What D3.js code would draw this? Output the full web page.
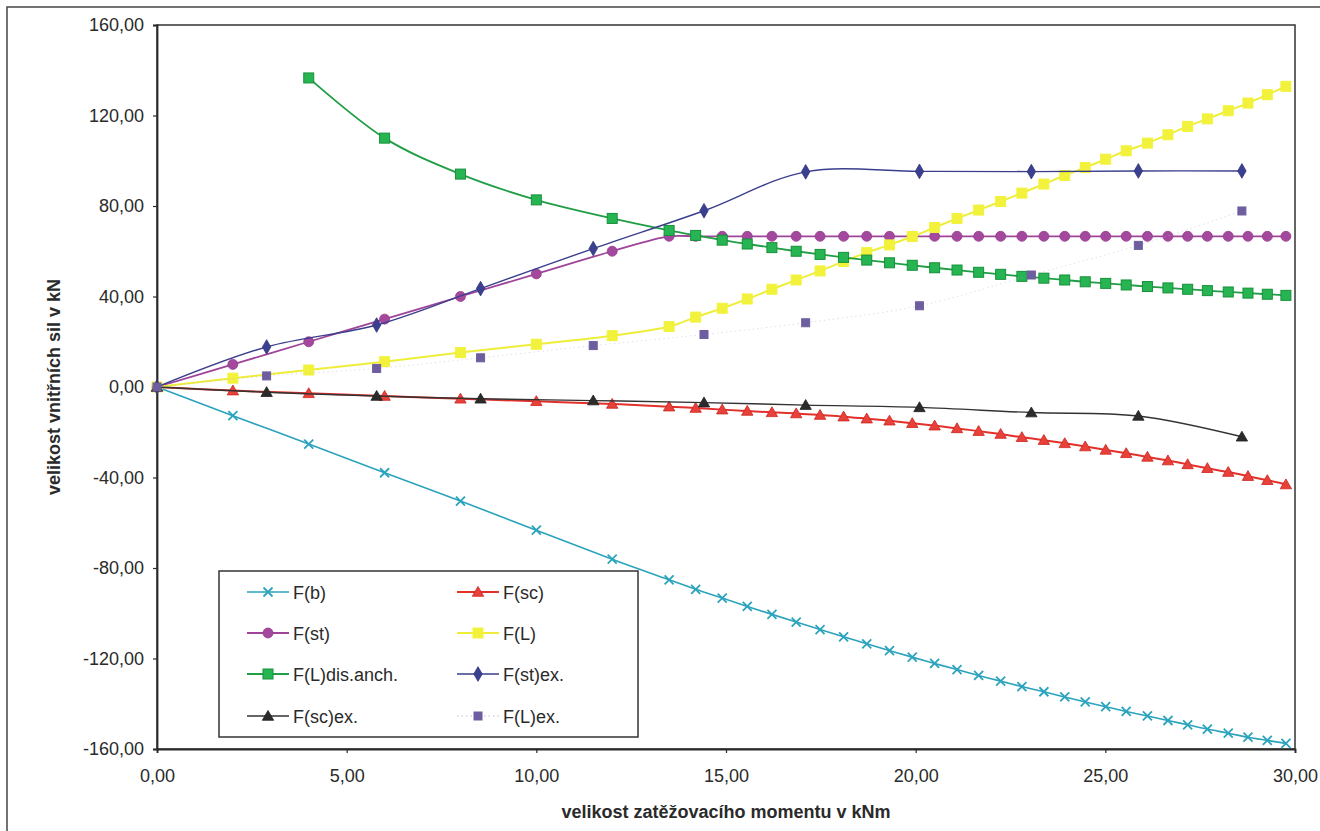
<!DOCTYPE html>
<html>
<head>
<meta charset="utf-8">
<script src="https://cdn.jsdelivr.net/npm/d3@7"></script>
<style>
  html, body { margin: 0; padding: 0; background: #fff; }
  svg { display: block; }
  text { font-family: Arial, "Liberation Sans", sans-serif; fill: #2a2a2a; }
</style>
</head>
<body>
<svg id="chart" width="1320" height="831"></svg>
<script>
// ---- data ----
const xCalc = [0, 2, 4, 6, 8, 10, 12, 13.5, 14.2, 14.9, 15.56, 16.21, 16.85, 17.48, 18.10, 18.71, 19.31, 19.91, 20.50,
  21.09, 21.66, 22.24, 22.80, 23.38, 23.93, 24.47, 25.01, 25.55, 26.11, 26.65, 27.17, 27.69, 28.24, 28.76, 29.27, 29.76];
const fB = [0, -12.7, -25.2, -37.9, -50.4, -63.3, -76.1, -85.2, -89.4,
  -93.3, -97.0, -100.5, -103.9, -107.2, -110.4, -113.5, -116.5, -119.4, -122.2, -124.9, -127.5, -130.0, -132.4,
  -134.7, -137.0, -139.2, -141.3, -143.4, -145.4, -147.4, -149.3, -151.2, -153.0, -154.8, -156.2, -157.5];
const fSc = [0, -1.6, -2.8, -4.0, -5.2, -6.3, -7.5, -8.7, -9.3, -10.0,
  -10.6, -11.2, -11.7, -12.4, -13.1, -14.0, -14.9, -16.0, -17.1, -18.3, -19.5, -20.8, -22.2, -23.5, -24.9,
  -26.3, -27.8, -29.3, -30.9, -32.5, -34.2, -35.9, -37.6, -39.4, -41.2, -43.1];
const fSt = [0, 10, 20, 30, 40, 50, 60, 66.6, 66.6, 66.6, 66.6, 66.6, 66.6, 66.6, 66.6, 66.6, 66.6, 66.6, 66.6,
  66.6, 66.6, 66.6, 66.6, 66.6, 66.6, 66.6, 66.6, 66.6, 66.6, 66.6, 66.6, 66.6, 66.6, 66.6, 66.6, 66.6];
const fL = [0, 3.9, 7.5, 11.2, 15.2, 18.9, 22.7, 26.7, 30.9, 34.8,
  38.9, 43.2, 47.3, 51.3, 55.5, 59.4, 62.8, 66.5, 70.5, 74.5, 78.2, 82.0, 85.7, 89.7, 93.5,
  97.0, 100.7, 104.4, 107.8, 111.5, 115.2, 118.5, 122.1, 125.5, 129.2, 132.9];
const fLdis = [null, null, 136.6, 110.0, 94.1, 82.7, 74.5, 69.2, 67.0, 64.9,
  63.2, 61.6, 60.0, 58.6, 57.3, 56.1, 54.9, 53.8, 52.7, 51.7, 50.7, 49.8, 48.9, 48.1, 47.3,
  46.5, 45.8, 45.1, 44.4, 43.8, 43.2, 42.6, 42.0, 41.5, 41.0, 40.5];

const xEx = [0, 2.89, 5.79, 8.53, 11.5, 14.42, 17.1, 20.1, 23.05, 25.87, 28.6];
const fStEx = [0, 17.7, 27.4, 43.5, 61.2, 77.9, 95.1, 95.3, 95.2, 95.5, 95.5];
const fScEx = [0, -2.3, -4.0, -5.2, -6.0, -6.9, -8.0, -9.0, -11.3, -12.8, -22.0];
const fLEx = [0, 4.9, 8.2, 12.9, 18.3, 23.2, 28.4, 35.9, 49.5, 62.6, 77.8];

const xTicks = [0, 5, 10, 15, 20, 25, 30];
const yTicks = [160, 120, 80, 40, 0, -40, -80, -120, -160];
const xTitle = "velikost zatěžovacího momentu v kNm";
const yTitle = "velikost vnitřních sil v kN";

const seriesNames = ["F(b)", "F(sc)", "F(st)", "F(L)", "F(L)dis.anch.", "F(st)ex.", "F(sc)ex.", "F(L)ex."];

// ---- series definitions (style) ----
const series = [
  { name: seriesNames[0], xs: xCalc, ys: fB, color: "#2ba3bd", marker: "x", mfill: "#2ba3bd", mstroke: "#2ba3bd", width: 1.6 },
  { name: seriesNames[1], xs: xCalc, ys: fSc, color: "#e2302b", marker: "triangle", mfill: "#e8413a", mstroke: "#cc2420", width: 2 },
  { name: seriesNames[2], xs: xCalc, ys: fSt, color: "#a0449a", marker: "circle", mfill: "#a4489e", mstroke: "#963c8f", width: 1.8 },
  { name: seriesNames[3], xs: xCalc, ys: fL, color: "#eeee3a", marker: "square", mfill: "#f2f23c", mstroke: "#f2f23c", width: 2 },
  { name: seriesNames[4], xs: xCalc, ys: fLdis, color: "#1f9e45", marker: "square", mfill: "#27b553", mstroke: "#17903a", width: 1.8 },
  { name: seriesNames[5], xs: xEx, ys: fStEx, color: "#3a3e8c", marker: "diamond", mfill: "#3a3f8f", mstroke: "#333880", width: 1.4 },
  { name: seriesNames[6], xs: xEx, ys: fScEx, color: "#333333", marker: "triangle", mfill: "#2b2b2b", mstroke: "#222", width: 1.4 },
  { name: seriesNames[7], xs: xEx, ys: fLEx, color: "#b4aad8", marker: "square", mfill: "#6e5e9f", mstroke: "#6e5e9f", width: 0.9, dash: "1.5,3", lineOpacity: 0.45, msize: 8 }
];

// ---- layout ----
const svg = d3.select("#chart");
const x = d3.scaleLinear().domain([0, 30]).range([157, 1295]);
const y = d3.scaleLinear().domain([-160, 160]).range([749, 25]);

// outer frame
svg.append("rect").attr("x", 7).attr("y", 7).attr("width", 1330).attr("height", 840)
  .attr("fill", "none").attr("stroke", "#444").attr("stroke-width", 1.5);

// plot border
svg.append("rect").attr("x", x(0)).attr("y", y(160)).attr("width", x(30) - x(0)).attr("height", y(-160) - y(160))
  .attr("fill", "none").attr("stroke", "#333").attr("stroke-width", 1.5);

// axes
const fmt = d => d3.format(".2f")(d).replace(".", ",").replace("\u2212", "-");
const xAxis = d3.axisBottom(x).tickValues(xTicks).tickSize(4).tickPadding(16).tickFormat(fmt);
const yAxis = d3.axisLeft(y).tickValues(yTicks).tickSize(4).tickPadding(9).tickFormat(fmt);

const gx = svg.append("g").attr("transform", `translate(0,${y(-160)})`).call(xAxis);
const gy = svg.append("g").attr("transform", `translate(${x(0)},0)`).call(yAxis);
[gx, gy].forEach(g => {
  g.select(".domain").attr("stroke", "#2a2a2a").attr("stroke-width", 1.8);
  g.selectAll(".tick line").attr("stroke", "#2a2a2a").attr("stroke-width", 1.2);
  g.selectAll(".tick text").attr("font-size", 18).attr("fill", "#262626")
    .attr("font-family", "Arial, 'Liberation Sans', sans-serif");
});

// axis titles
svg.append("text").attr("x", (x(0) + x(30)) / 2).attr("y", 818).attr("text-anchor", "middle")
  .attr("font-size", 18).attr("font-weight", "bold").text(xTitle);
svg.append("text").attr("transform", `translate(60,${y(0)}) rotate(-90)`).attr("text-anchor", "middle")
  .attr("font-size", 18).attr("font-weight", "bold").text(yTitle);

// marker drawing
function drawMarker(g, type, cx, cy, s) {
  const size = s.msize || 10;
  if (type === "x") {
    const r = 4.5;
    g.append("path").attr("d", `M${cx - r},${cy - r}L${cx + r},${cy + r}M${cx - r},${cy + r}L${cx + r},${cy - r}`)
      .attr("stroke", s.mstroke).attr("stroke-width", 1.8).attr("fill", "none");
  } else if (type === "circle") {
    g.append("circle").attr("cx", cx).attr("cy", cy).attr("r", size / 2)
      .attr("fill", s.mfill).attr("stroke", s.mstroke).attr("stroke-width", 0.8);
  } else if (type === "square") {
    g.append("rect").attr("x", cx - size / 2).attr("y", cy - size / 2).attr("width", size).attr("height", size)
      .attr("fill", s.mfill).attr("stroke", s.mstroke).attr("stroke-width", 1);
  } else if (type === "triangle") {
    g.append("path").attr("transform", `translate(${cx},${cy + 1})`)
      .attr("d", d3.symbol(d3.symbolTriangle, 56)())
      .attr("fill", s.mfill).attr("stroke", s.mstroke).attr("stroke-width", 0.8);
  } else if (type === "diamond") {
    g.append("path").attr("transform", `translate(${cx},${cy})`)
      .attr("d", d3.symbol(d3.symbolDiamond, 62)())
      .attr("fill", s.mfill).attr("stroke", s.mstroke).attr("stroke-width", 0.8);
  }
}

// series
const plot = svg.append("g");
series.forEach(s => {
  const pts = s.xs.map((xv, i) => ({ x: xv, y: s.ys[i] })).filter(d => d.y !== null);
  const line = d3.line().x(d => x(d.x)).y(d => y(d.y)).curve(d3.curveCatmullRom.alpha(0.5));
  const g = plot.append("g");
  g.append("path").attr("d", line(pts)).attr("fill", "none").attr("stroke", s.color)
    .attr("stroke-width", s.width).attr("stroke-dasharray", s.dash || null)
    .attr("opacity", s.lineOpacity || 1);
  pts.forEach(d => drawMarker(g, s.marker, x(d.x), y(d.y), s));
});

// legend
const leg = svg.append("g");
leg.append("rect").attr("x", 219).attr("y", 571).attr("width", 419).attr("height", 166)
  .attr("fill", "#fff").attr("stroke", "#333").attr("stroke-width", 1.5);
const rowsY = [592, 633, 674, 716];
const colX = [247, 457];
series.forEach((s, i) => {
  const col = i % 2, row = Math.floor(i / 2);
  const lx = colX[col], ly = rowsY[row];
  const g = leg.append("g");
  g.append("line").attr("x1", lx).attr("x2", lx + 42).attr("y1", ly).attr("y2", ly)
    .attr("stroke", s.color).attr("stroke-width", s.width).attr("stroke-dasharray", s.dash || null)
    .attr("opacity", s.dash ? 0.9 : 1);
  drawMarker(g, s.marker, lx + 21, ly, s);
  g.append("text").attr("x", lx + 46).attr("y", ly + 6.5).attr("font-size", 18).text(s.name);
});
</script>
</body>
</html>
